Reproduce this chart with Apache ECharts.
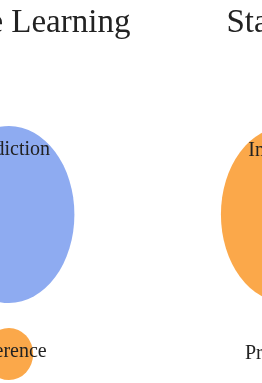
<!DOCTYPE html>
<html><head><meta charset="utf-8">
<script src="https://cdn.jsdelivr.net/npm/echarts@6/dist/echarts.min.js"></script>
<style>html,body{margin:0;padding:0;background:#fff}#c{width:262px;height:383px}</style>
</head><body><div id="c"></div>
<script>
// Group (column) names
const groups = ['Machine Learning', 'Statistics'];
// Upper row: the dominant focus of each group
const upperLabels = ['Prediction', 'Inference'];
const upperSizes = [88.5, 88];
// Lower row: the secondary focus of each group
const lowerLabels = ['Inference', 'Prediction'];
const lowerSizes = [26, 24];
// Colour per concept
const conceptColors = { 'Prediction': '#8eabf1', 'Inference': '#fba84a' };

const data = [];
groups.forEach((g, i) => {
  data.push({ value: [i, 0, upperSizes[i]], name: upperLabels[i] });
  data.push({ value: [i, 1, lowerSizes[i]], name: lowerLabels[i] });
});

const serif = "'Liberation Serif', 'Times New Roman', serif";
const chart = echarts.init(document.getElementById('c'), null, { renderer: 'canvas' });
chart.setOption({
  backgroundColor: '#fff',
  animation: false,
  grid: { left: 9, right: -24, top: 214.5, bottom: 29, containLabel: false, outerBoundsMode: 'none' },
  xAxis: {
    type: 'category', data: groups, boundaryGap: false, position: 'top',
    axisLine: { show: false }, axisTick: { show: false }, splitLine: { show: false },
    axisLabel: { interval: 0, hideOverlap: false, margin: 191, verticalAlign: 'middle',
      fontFamily: serif, fontSize: 33, color: '#222' }
  },
  yAxis: { type: 'value', min: 0, max: 1, inverse: true, show: false },
  series: [{
    type: 'custom',
    clip: false,
    data: data,
    renderItem: function (params, api) {
      const c = api.coord([api.value(0), api.value(1)]);
      const ry = api.value(2);
      const rx = 0.66 * ry + 7;
      const name = data[params.dataIndex].name;
      return {
        type: 'group',
        children: [
          { type: 'circle', x: c[0], y: c[1], scaleX: rx / ry, scaleY: 1,
            shape: { cx: 0, cy: 0, r: ry },
            style: { fill: conceptColors[name] } },
          { type: 'text', x: c[0], y: c[1] - ry + 24,
            style: { text: name, fill: '#222', font: '20px ' + serif,
              align: 'center', verticalAlign: 'middle' } }
        ]
      };
    }
  }]
});
</script></body></html>
